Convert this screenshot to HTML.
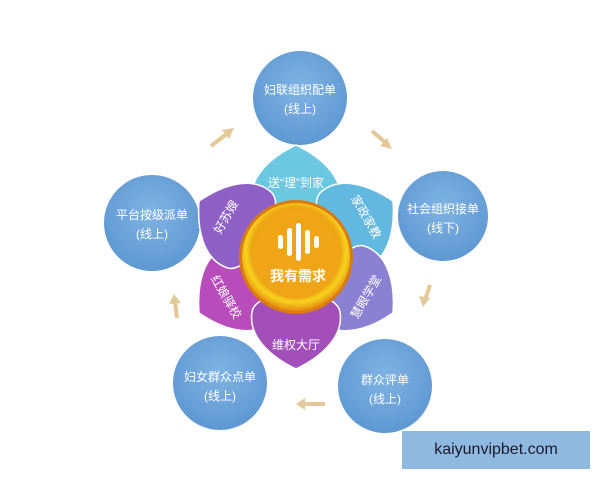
<!DOCTYPE html>
<html><head><meta charset="utf-8"><style>
html,body{margin:0;padding:0;background:#fff;width:600px;height:480px;overflow:hidden;position:relative}
svg{position:absolute;left:0;top:0}
text{font-family:"Liberation Sans","Noto Sans CJK SC",sans-serif}
.wm{position:absolute;left:402px;top:431px;width:188px;height:38px;background:#8fb9e1;color:#1a1a2a;font:16px "Liberation Sans",sans-serif;line-height:38px;text-align:center}
</style></head><body>
<svg width="600" height="480" viewBox="0 0 600 480">
<defs>
<radialGradient id="cg" cx="50%" cy="40%" r="60%"><stop offset="0" stop-color="#7fb3e2"/><stop offset="1" stop-color="#5e98d2"/></radialGradient>
<radialGradient id="gold" cx="50%" cy="45%" r="55%"><stop offset="0" stop-color="#f3a81a"/><stop offset="0.75" stop-color="#eea514"/><stop offset="0.85" stop-color="#f7d21e"/><stop offset="1" stop-color="#e58a10"/></radialGradient>
</defs>
<circle cx="300" cy="98" r="47" fill="url(#cg)"/>
<circle cx="443" cy="216" r="45" fill="url(#cg)"/>
<circle cx="385" cy="386" r="47" fill="url(#cg)"/>
<circle cx="220" cy="383" r="47" fill="url(#cg)"/>
<circle cx="152" cy="223" r="48" fill="url(#cg)"/>
<g fill="#fff" font-size="12" text-anchor="middle">
<text x="300" y="94">妇联组织配单</text><text x="300" y="113">(线上)</text>
<text x="443" y="213">社会组织接单</text><text x="443" y="232">(线下)</text>
<text x="385" y="384">群众评单</text><text x="385" y="403">(线上)</text>
<text x="220" y="381">妇女群众点单</text><text x="220" y="400">(线上)</text>
<text x="152" y="219">平台按级派单</text><text x="152" y="238">(线上)</text>
</g>
<g stroke="#e3c999" stroke-width="4" fill="#e3c999">
<line x1="211" y1="146" x2="228" y2="133"/><polygon points="234,128 222,130 229,139" stroke="none"/>
<line x1="372" y1="131" x2="386" y2="143"/><polygon points="392,149 380,146 387,138" stroke="none"/>
<line x1="430" y1="285" x2="425" y2="300"/><polygon points="423,307 419,296 430,298" stroke="none"/>
<line x1="325" y1="404" x2="304" y2="404"/><polygon points="296,404 305,398 305,410" stroke="none"/>
<line x1="177" y1="318" x2="175" y2="302"/><polygon points="174,294 169,304 181,303" stroke="none"/>
</g>
<g transform="translate(296,257)" stroke="#fff" stroke-width="1.5">
<path d="M0,-112 C25,-100 48,-80 44,-55 C40,-30 -40,-30 -44,-55 C-48,-80 -25,-100 0,-112Z" fill="#6cc7e0" transform="rotate(0)"/>
<path d="M0,-112 C25,-100 48,-80 44,-55 C40,-30 -40,-30 -44,-55 C-48,-80 -25,-100 0,-112Z" fill="#62b8df" transform="rotate(60)"/>
<path d="M0,-112 C25,-100 48,-80 44,-55 C40,-30 -40,-30 -44,-55 C-48,-80 -25,-100 0,-112Z" fill="#8c80d2" transform="rotate(120)"/>
<path d="M0,-112 C25,-100 48,-80 44,-55 C40,-30 -40,-30 -44,-55 C-48,-80 -25,-100 0,-112Z" fill="#b84cba" transform="rotate(240)"/>
<path d="M0,-112 C25,-100 48,-80 44,-55 C40,-30 -40,-30 -44,-55 C-48,-80 -25,-100 0,-112Z" fill="#8e60c6" transform="rotate(300)"/>
<path d="M0,-112 C25,-100 48,-80 44,-55 C40,-30 -40,-30 -44,-55 C-48,-80 -25,-100 0,-112Z" fill="#a24fba" transform="rotate(180)"/>
</g>
<g transform="translate(296,257)">
<g fill="#fff" font-size="12" text-anchor="middle">
<text x="0" y="-70">送“理”到家</text>
<text transform="translate(70,-40) rotate(60)" y="4">家政家教</text>
<text transform="translate(70,40) rotate(-60)" y="4">慧眼学堂</text>
<text x="0" y="92">维权大厅</text>
<text transform="translate(-70,40) rotate(60)" y="4">红娘驿校</text>
<text transform="translate(-70,-40) rotate(-60)" y="4">好苏嫂</text>
</g>
<circle r="57" fill="#d87a10"/>
<circle r="54" fill="url(#gold)"/>
<circle r="42" fill="#f0a516"/>
<g fill="#fff"><rect x="-18" y="-22" width="5" height="14" rx="2.5"/><rect x="-9" y="-29" width="5" height="28" rx="2.5"/><rect x="0" y="-34" width="5" height="38" rx="2.5"/><rect x="9" y="-27" width="5" height="24" rx="2.5"/><rect x="18" y="-21" width="5" height="12" rx="2.5"/></g>
<text x="2" y="24" fill="#fff" font-size="14" font-weight="bold" text-anchor="middle">我有需求</text>
</g>
</svg>
<div class="wm">kaiyunvipbet.com</div>
</body></html>
